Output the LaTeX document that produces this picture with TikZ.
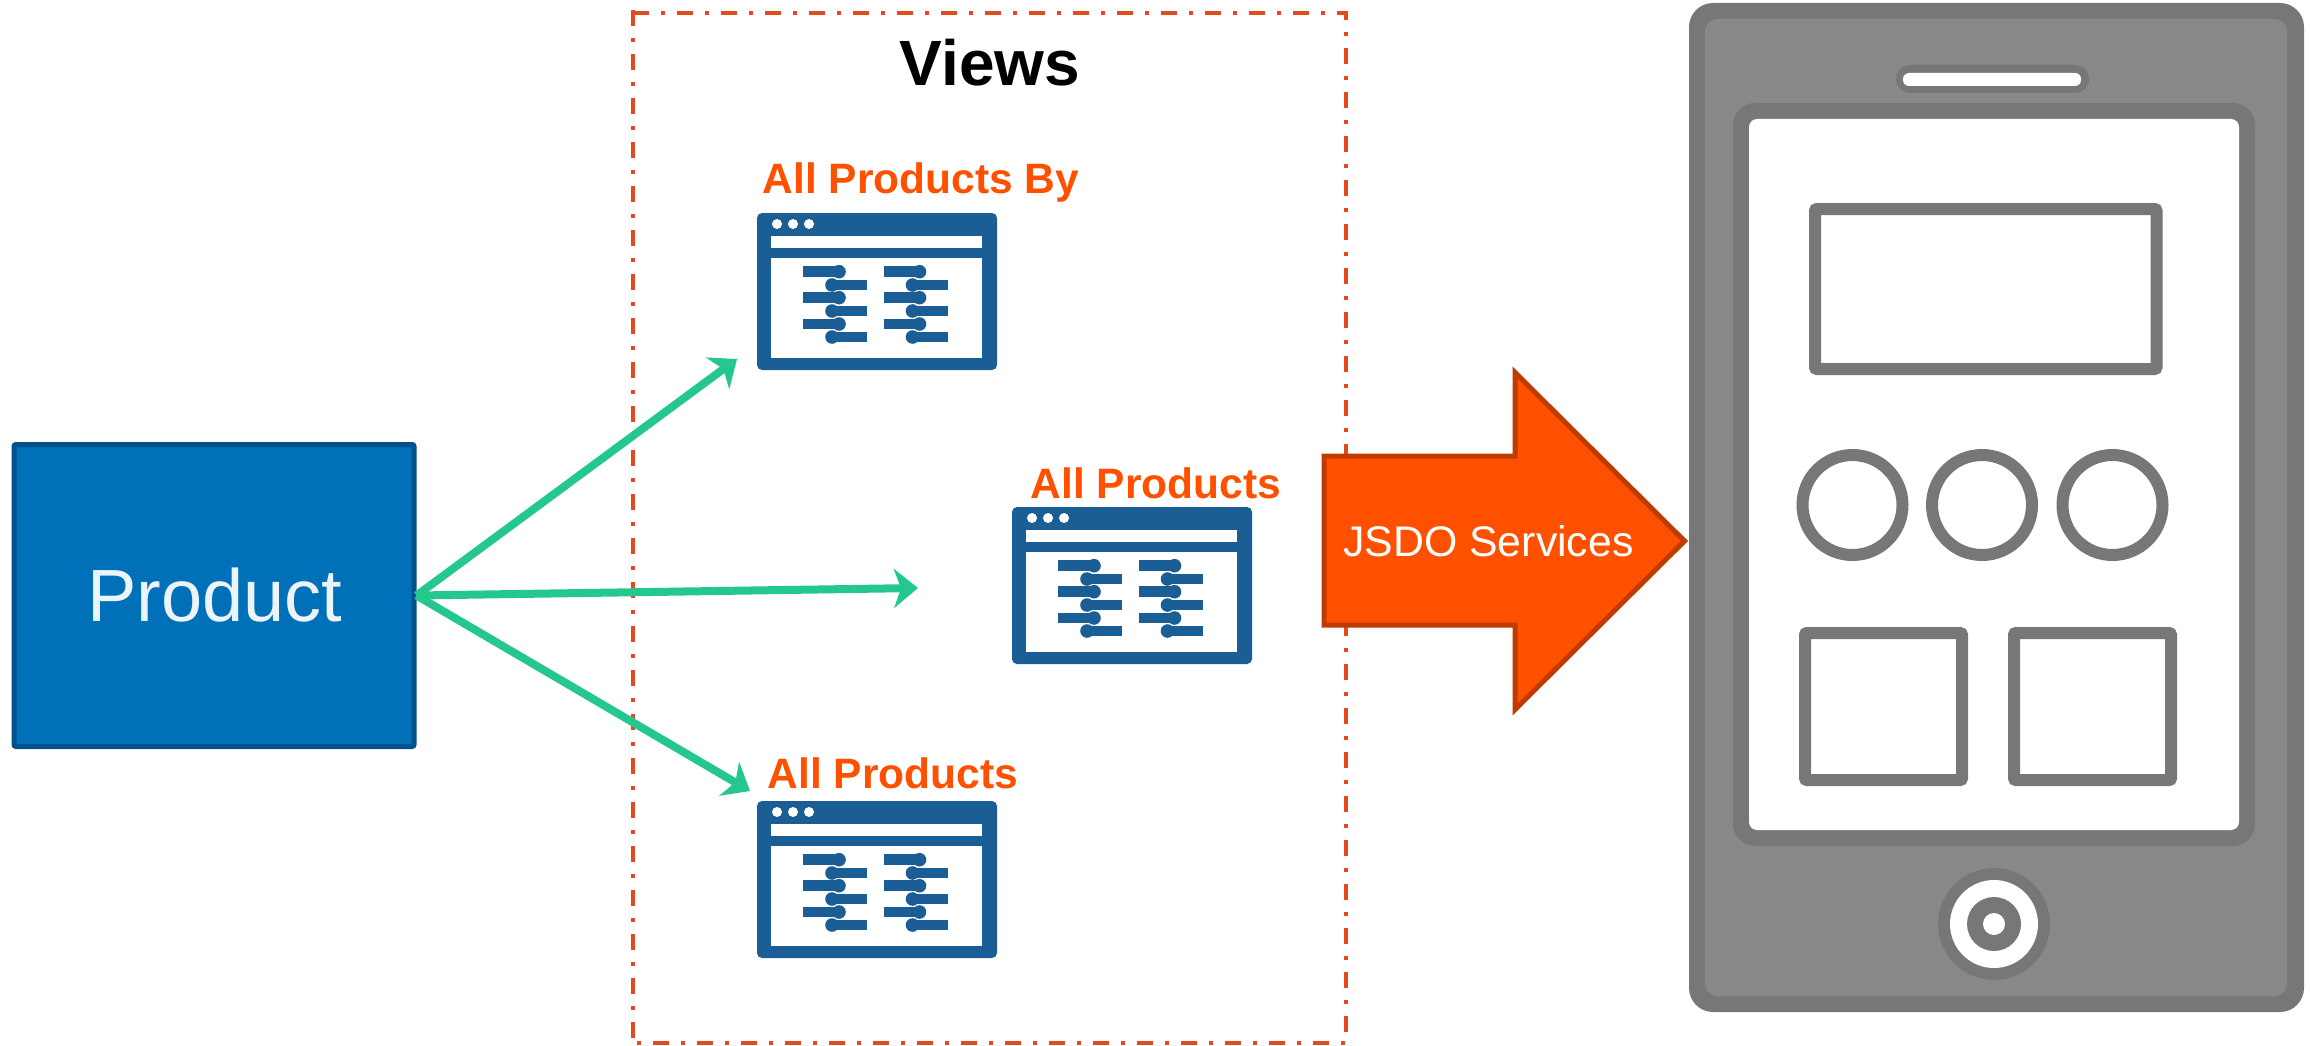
\documentclass[tikz,border=0pt]{standalone}
\usepackage{fontspec}
\setmainfont{Liberation Sans}
\usetikzlibrary{arrows.meta}
\definecolor{iconblue}{HTML}{1B5E96}
\definecolor{prodblue}{HTML}{0070B8}
\definecolor{prodedge}{HTML}{00508A}
\definecolor{flowgreen}{HTML}{24C88E}
\definecolor{jsdoorange}{HTML}{FF5000}
\definecolor{jsdoedge}{HTML}{BF3B00}
\definecolor{viewred}{HTML}{E34A1E}
\definecolor{phoneedge}{HTML}{777777}
\definecolor{phonebody}{HTML}{888888}
\tikzset{
  x=1pt,y=-1pt,
  flow/.style={draw=flowgreen,line width=8pt,-{Stealth[length=24pt,width=39pt,inset=7pt]}},
  viewsline/.style={draw=viewred,line width=4pt,dash pattern=on 16pt off 12pt on 4pt off 12pt},
  viewlabel/.style={anchor=base,inner sep=0pt,text=jsdoorange,font=\fontsize{42.5}{45}\selectfont\bfseries},
  slidebar/.style={line width=10.5pt,draw=iconblue},
  phonering/.style={draw=phoneedge,fill=white,line width=12pt},
  phoneframe/.style={draw=phoneedge,fill=white,line width=12pt,rounded corners=2pt},
  windowicon/.pic={
    \fill[iconblue,rounded corners=5pt] (0,0) rectangle (240,157);
    \fill[white] (14,23) rectangle (225,35);
    \fill[white] (14,45) rectangle (225,145);
    \foreach \cx in {20,36,52} \fill[white] (\cx,11) circle (5);
    \foreach \ox in {0,80.5}{
      \foreach \ry in {58.7,84.7,111}{
        \draw[slidebar] (46+\ox,\ry) -- (82+\ox,\ry);
        \fill[iconblue] (82+\ox,\ry) circle (6.8);
      }
      \foreach \ry in {72,98,124}{
        \draw[slidebar] (75+\ox,\ry) -- (110+\ox,\ry);
        \fill[iconblue] (75+\ox,\ry) circle (6.8);
      }
    }
  }
}
\begin{document}
\begin{tikzpicture}
\useasboundingbox (0,0) rectangle (2310,1046);
% views frame
\draw[viewsline] (633,13) -- (1346,13) -- (1346,1043) -- (631,1043);
\draw[viewsline,dash phase=36pt] (633,1046) -- (633,9);
\node[anchor=base,inner sep=0pt,font=\fontsize{64}{64}\selectfont\bfseries] (views) at (990,86) {Views};
% product
\node[draw=prodedge,fill=prodblue,line width=5pt,rounded corners=2pt,minimum width=400pt,minimum height=302pt,inner sep=0pt] (product) at (214,595.5) {};
\node[anchor=base,inner sep=0pt,text=white!92!prodblue,font=\fontsize{74}{74}\selectfont] (productlabel) at (215,621.5) {Product};
% window icons
\pic (iconbyname) at (757,213) {windowicon};
\pic (iconall) at (1012,507) {windowicon};
\pic (iconlower) at (757,801) {windowicon};
\node[viewlabel] (labelby) at (921,193.5) {All Products By};
\node[viewlabel] (labelall) at (1156,498.5) {All Products};
\node[viewlabel] (labellower) at (893,788.5) {All Products};
% arrows
\coordinate (tipup) at (737,359);
\coordinate (tipmid) at (918,588);
\coordinate (tiplow) at (750,791);
\draw[flow] (product.east) -- (tipup);
\draw[flow] (product.east) -- (tipmid);
\draw[flow] (product.east) -- (tiplow);
% JSDO arrow
\draw[draw=jsdoedge,fill=jsdoorange,line width=5pt,miter limit=10]
  (1324,456) -- (1515,456) -- (1515,372.5) -- (1684.5,541) -- (1515,709.5) -- (1515,625) -- (1324,625) -- cycle;
\node[anchor=base,inner sep=0pt,text=white,font=\fontsize{42.8}{46}\selectfont] (jsdo) at (1488.5,556) {JSDO Services};
% phone
\fill[phoneedge,rounded corners=24pt] (1689,3) rectangle (2304,1012);
\fill[phonebody,rounded corners=12pt] (1705,19) rectangle (2287,996);
\fill[phoneedge,rounded corners=14pt] (1896,65) rectangle (2089,93);
\fill[white,rounded corners=6pt] (1903,73) rectangle (2081,86);
\fill[phoneedge,rounded corners=22pt] (1733,103) rectangle (2255,846);
\fill[white,rounded corners=8pt] (1749,119) rectangle (2239,830);
\draw[phoneframe] (1815,209) rectangle (2156.5,369);
\draw[phoneframe] (1805,633) rectangle (1962,780);
\draw[phoneframe] (2014,633) rectangle (2171,780);
\draw[phonering] (1852.5,505) circle (50);
\draw[phonering] (1982,505) circle (50);
\draw[phonering] (2112.5,505) circle (50);
\fill[phoneedge] (1994,924) circle (56);
\fill[white] (1994,924) circle (44);
\fill[phoneedge] (1994,924) circle (27);
\fill[white] (1994,924) circle (11);
\end{tikzpicture}
\end{document}
